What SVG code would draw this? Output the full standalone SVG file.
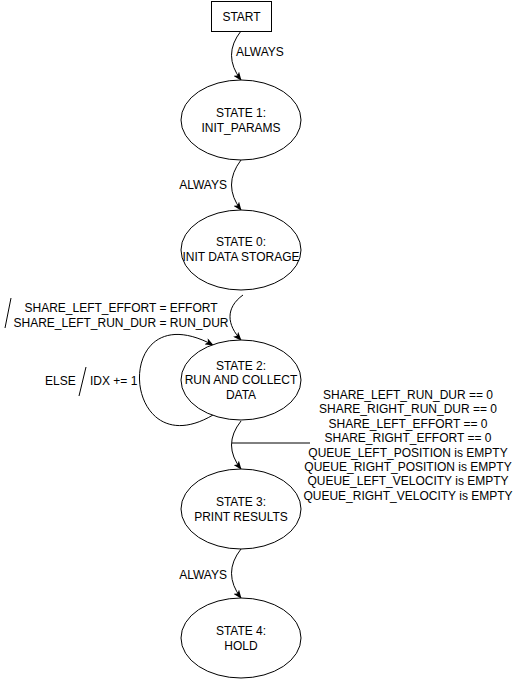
<svg xmlns="http://www.w3.org/2000/svg" width="524" height="681" viewBox="0 0 524 681">
<style>
text{font-family:"Liberation Sans",Arial,sans-serif;font-size:12px;fill:#000}
.n{fill:#fff;stroke:#000;stroke-width:1}
.e{fill:none;stroke:#000;stroke-width:1}
.m{text-anchor:middle}
.r{text-anchor:end}
</style>
<defs>
<marker id="a" viewBox="0 0 10 8" refX="9" refY="4" markerWidth="9" markerHeight="7" markerUnits="userSpaceOnUse" orient="auto">
<path d="M0,0 L10,4 L0,8 L2.5,4 z" fill="#000"/>
</marker>
</defs>
<rect width="524" height="681" fill="#fff"/>
<g id="connectors">
<path class="e" d="M241,31 Q222,55 241,80" marker-end="url(#a)"/>
<path class="e" d="M241,160 Q222,185 241,210" marker-end="url(#a)"/>
<path class="e" d="M243,295 C225,308 227,325 241,340" marker-end="url(#a)"/>
<path class="e" d="M213,415 C120,470 110,290 213,345" marker-end="url(#a)"/>
<path class="e" d="M241,421 Q222,445 241,469" marker-end="url(#a)"/>
<path class="e" d="M241,549 Q222,573 241,598" marker-end="url(#a)"/>
<path class="e" d="M232,443 H310"/>
<path class="e" d="M11,298 L5,328"/>
<path class="e" d="M86,367 L79,396"/>
<text x="236" y="56">ALWAYS</text>
<text class="r" x="227" y="189">ALWAYS</text>
<text class="m" x="121" y="312">SHARE_LEFT_EFFORT = EFFORT</text>
<text class="m" x="121" y="327">SHARE_LEFT_RUN_DUR = RUN_DUR</text>
<text x="45" y="385">ELSE</text>
<text x="90" y="385">IDX += 1</text>
<text class="m" x="408" y="399">SHARE_LEFT_RUN_DUR == 0</text>
<text class="m" x="408" y="413.4">SHARE_RIGHT_RUN_DUR == 0</text>
<text class="m" x="408" y="427.8">SHARE_LEFT_EFFORT == 0</text>
<text class="m" x="408" y="442.2">SHARE_RIGHT_EFFORT == 0</text>
<text class="m" x="408" y="456.6">QUEUE_LEFT_POSITION is EMPTY</text>
<text class="m" x="408" y="471">QUEUE_RIGHT_POSITION is EMPTY</text>
<text class="m" x="408" y="485.4">QUEUE_LEFT_VELOCITY is EMPTY</text>
<text class="m" x="408" y="499.8">QUEUE_RIGHT_VELOCITY is EMPTY</text>
<text class="r" x="227" y="579">ALWAYS</text>
</g>
<g id="start">
<rect class="n" x="211.5" y="1.5" width="60" height="30"/>
<text class="m" x="241.5" y="21">START</text>
</g>
<g id="state1">
<ellipse class="n" cx="241" cy="120" rx="60" ry="40"/>
<text class="m" x="241" y="117">STATE 1:</text>
<text class="m" x="241" y="132">INIT_PARAMS</text>
</g>
<g id="state0">
<ellipse class="n" cx="241" cy="250" rx="60" ry="40"/>
<text class="m" x="241" y="246">STATE 0:</text>
<text class="m" x="241" y="261">INIT DATA STORAGE</text>
</g>
<g id="state2">
<ellipse class="n" cx="241" cy="380" rx="60" ry="40"/>
<text class="m" x="241" y="369.5">STATE 2:</text>
<text class="m" x="241" y="384">RUN AND COLLECT</text>
<text class="m" x="241" y="398.5">DATA</text>
</g>
<g id="state3">
<ellipse class="n" cx="241" cy="509" rx="60" ry="40"/>
<text class="m" x="241" y="506">STATE 3:</text>
<text class="m" x="241" y="521">PRINT RESULTS</text>
</g>
<g id="state4">
<ellipse class="n" cx="241" cy="638" rx="60" ry="40"/>
<text class="m" x="241" y="635">STATE 4:</text>
<text class="m" x="241" y="650">HOLD</text>
</g>
</svg>
